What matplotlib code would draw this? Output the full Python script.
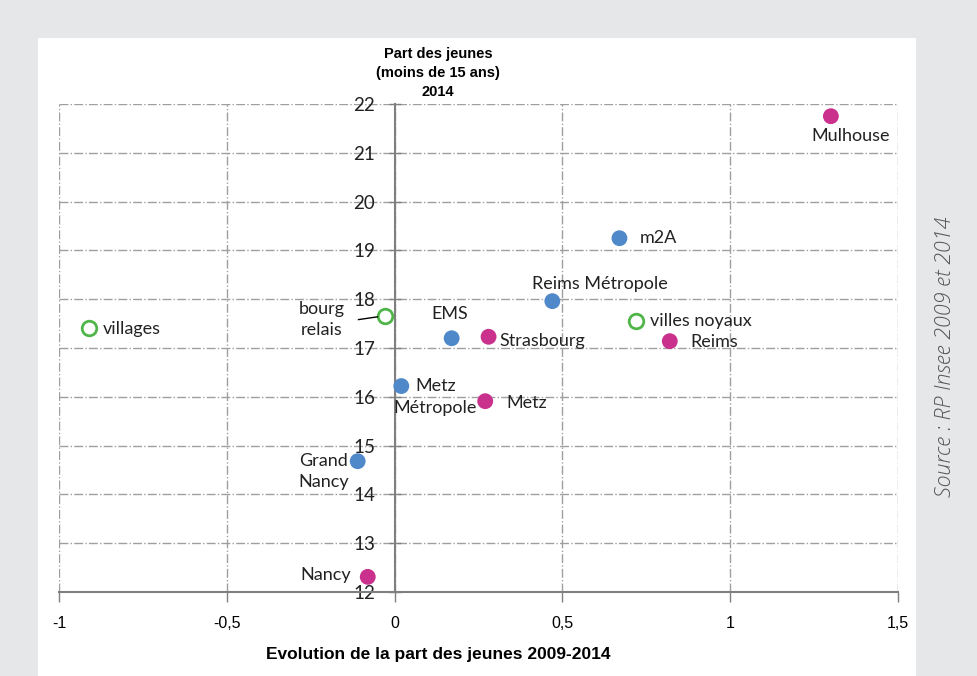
import numpy as np
import matplotlib.pyplot as plt
from matplotlib.patches import Rectangle

# data
names = ["Mulhouse", "m2A", "Reims Métropole", "villes noyaux", "Reims", "Strasbourg",
         "EMS", "bourg\nrelais", "villages", "Metz\nMétropole", "Metz", "Grand\nNancy", "Nancy"]
evol = [1.30, 0.67, 0.47, 0.72, 0.82, 0.28, 0.17, -0.03, -0.91, 0.02, 0.27, -0.11, -0.08]
part = [21.75, 19.25, 17.96, 17.55, 17.14, 17.23, 17.20, 17.66, 17.41, 16.22, 15.91, 14.68, 12.31]
kind = ["ville", "agglo", "agglo", "type", "ville", "ville", "agglo", "type", "type",
        "agglo", "ville", "agglo", "ville"]

# label offsets in pixels + alignment
offsets = [(20, -20, "center"), (20, 0, "left"), (48, 17, "center"), (14, 0, "left"),
           (21, -1, "left"), (11, -4, "left"), (-2, 24, "center"), (-63, -4, "center"),
           (14, -1, "left"), (34, -11, "center"), (21, -2, "left"), (-34, -10, "center"),
           (-17, 2, "right")]

blue = "#5089c9"
magenta = "#c9318d"
green = "#4fb548"

fig = plt.figure(figsize=(9.77, 6.76), dpi=100)
fig.patch.set_facecolor("#e6e7e8")
fig.patches.append(Rectangle((38 / 977, 0), 878 / 977, 638 / 676, transform=fig.transFigure,
                             facecolor="white", edgecolor="none", zorder=-5))

ax = fig.add_axes([59 / 977, 84 / 676, 839 / 977, 488 / 676])
ax.set_facecolor("none")

# spines first (set_position resets the tick labels)
for s in ["top", "right"]:
    ax.spines[s].set_visible(False)
ax.spines["left"].set_position(("data", 0))
ax.spines["left"].set_color("#7f7f7f")
ax.spines["left"].set_linewidth(1.5)
ax.spines["bottom"].set_color("#7f7f7f")
ax.spines["bottom"].set_linewidth(1.5)

ax.set_xlim(-1, 1.5)
ax.set_ylim(12, 22)
ax.set_xticks([-1, -0.5, 0, 0.5, 1, 1.5])
ax.set_xticklabels(["-1", "-0,5", "0", "0,5", "1", "1,5"], family="Liberation Sans", fontsize=11.5)
ax.set_yticks(range(12, 23))
ax.set_yticklabels([str(v) for v in range(12, 23)], family="Lato", fontsize=13.5, color="#222222")

ax.grid(True, color="#9f9f9f", linestyle="-.", linewidth=1)
ax.tick_params(axis="x", direction="out", length=7, width=1, color="#7f7f7f", pad=10)
ax.tick_params(axis="y", direction="inout", length=8, width=1, color="#7f7f7f", pad=10)

for x, y, k in zip(evol, part, kind):
    if k == "type":
        ax.scatter(x, y, s=110, facecolor="white", edgecolor=green, linewidth=2, zorder=5, clip_on=False)
    else:
        ax.scatter(x, y, s=130, color=blue if k == "agglo" else magenta, edgecolor="none",
                   zorder=5, clip_on=False)

for n, x, y, (dx, dy, ha) in zip(names, evol, part, offsets):
    props = None
    if n.startswith("bourg"):
        props = dict(arrowstyle="-", color="black", lw=1, relpos=(1.0, 0.45), shrinkA=8, shrinkB=5)
    ax.annotate(n, (x, y), xytext=(dx, dy), textcoords="offset pixels", ha=ha, va="center",
                family="Lato", fontsize=13, color="#222222", linespacing=1.4,
                arrowprops=props, zorder=6)

fig.text(438 / 977, 1 - 73 / 676, "Part des jeunes\n(moins de 15 ans)\n2014", ha="center", va="center",
         family="Liberation Sans", fontweight="bold", fontsize=10.5, linespacing=1.45)
fig.text(438 / 977, 1 - 655 / 676, "Evolution de la part des jeunes 2009-2014", ha="center", va="center",
         family="Liberation Sans", fontweight="bold", fontsize=12.5)
fig.text(945 / 977, 1 - 357 / 676, "Source : RP Insee 2009 et 2014", rotation=90, ha="center", va="center",
         family="Open Sans", fontstyle="italic", fontweight="light", fontsize=15.5, color="#555555")

fig.savefig("out.png", dpi=100, facecolor=fig.get_facecolor())
